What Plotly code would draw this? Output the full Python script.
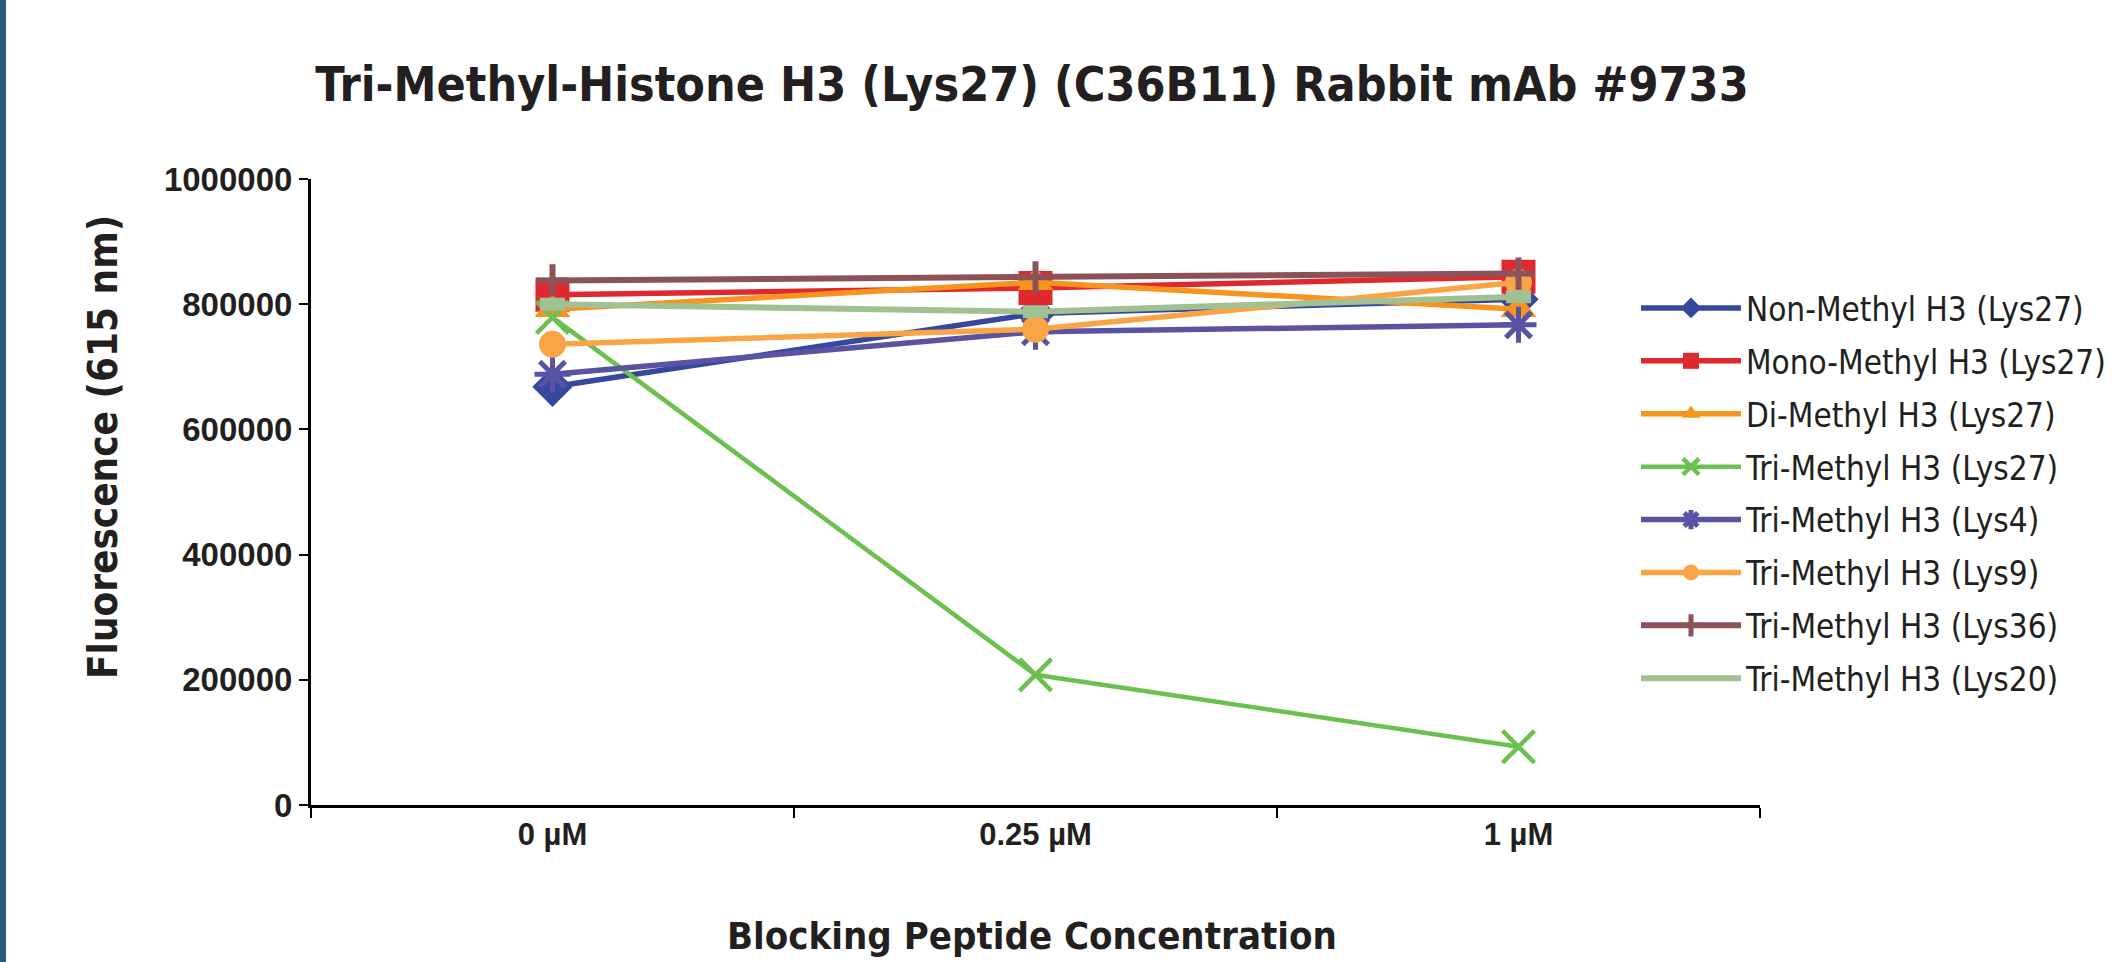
import plotly.graph_objects as go

categories = ["0 µM", "0.25 µM", "1 µM"]

series_names = [
    "Non-Methyl H3 (Lys27)",
    "Mono-Methyl H3 (Lys27)",
    "Di-Methyl H3 (Lys27)",
    "Tri-Methyl H3 (Lys27)",
    "Tri-Methyl H3 (Lys4)",
    "Tri-Methyl H3 (Lys9)",
    "Tri-Methyl H3 (Lys36)",
    "Tri-Methyl H3 (Lys20)",
]

non_methyl_k27 = [668000, 785000, 808000]
mono_methyl_k27 = [815000, 826000, 844000]
di_methyl_k27 = [792000, 835000, 792000]
tri_methyl_k27 = [779000, 208000, 93000]
tri_methyl_k4 = [688000, 756000, 767000]
tri_methyl_k9 = [736000, 760000, 835000]
tri_methyl_k36 = [838000, 843000, 849000]
tri_methyl_k20 = [800000, 788000, 812000]

series_values = [
    non_methyl_k27, mono_methyl_k27, di_methyl_k27, tri_methyl_k27,
    tri_methyl_k4, tri_methyl_k9, tri_methyl_k36, tri_methyl_k20,
]

y_tick_vals = [0, 200000, 400000, 600000, 800000, 1000000]
y_tick_text = ["0", "200000", "400000", "600000", "800000", "1000000"]

colors = ["#36489E", "#E0282F", "#F7941E", "#6CC04F",
          "#5A52A3", "#F9A546", "#8B5257", "#A2C192"]
symbols = ["diamond", "square", "triangle-up", "x-thin",
           "asterisk", "circle", "cross-thin", "line-ew"]
sizes = [31, 34, 31, 32, 30, 27, 23, 18]
mline = [0, 0, 0, 4.5, 5, 0, 6, 13]
lwidth = [5.5, 5.5, 5.5, 4.5, 5.5, 5.5, 6, 6]

NARROW = "Liberation Sans Narrow, DejaVu Sans Condensed, Arial Narrow, Liberation Sans"
BOLD = "Liberation Sans, Arial, Helvetica"
TXT = "#231F20"

fig = go.Figure()
for i, (name, vals, c, s, sz, mw, lw) in enumerate(zip(series_names, series_values, colors,
                                                       symbols, sizes, mline, lwidth)):
    fig.add_trace(go.Scatter(
        x=categories, y=vals, name=name, mode="lines+markers",
        legendgroup=f"g{i}",
        line=dict(color=c, width=lw),
        marker=dict(symbol=s, size=sz, color=c,
                    line=dict(color=c, width=mw)),
    ))

W, H = 2112, 962
L, R, T, B = 311, 352, 179, 157
pw, ph = W - L - R, H - T - B

fig.update_layout(
    width=W, height=H,
    margin=dict(l=L, r=R, t=T, b=B, autoexpand=False),
    paper_bgcolor="white", plot_bgcolor="white",
    title=dict(text="Tri-Methyl-Histone H3 (Lys27) (C36B11) Rabbit mAb #9733",
               x=1032 / W, xanchor="center", y=1 - 84 / H, yanchor="middle",
               font=dict(family=NARROW, size=48, color=TXT, weight="bold")),
    showlegend=True,
    legend=dict(x=(1636 - L) / pw, xanchor="left", y=(H - B - 280) / ph, yanchor="top",
                font=dict(family=NARROW, size=33, color=TXT),
                bgcolor="rgba(0,0,0,0)", itemwidth=100, tracegroupgap=7),
    xaxis=dict(type="category", categoryorder="array", categoryarray=categories,
               range=[-0.5, 2.5], tickson="boundaries", ticks="outside", ticklen=10,
               tickwidth=2, tickcolor="black", showline=True, linecolor="black",
               linewidth=3, showgrid=False, zeroline=False,
               tickfont=dict(family=BOLD, size=31, color=TXT, weight="bold")),
    yaxis=dict(range=[0, 1000000], tickvals=y_tick_vals, ticktext=y_tick_text,
               ticks="outside", ticklen=9, tickwidth=2, tickcolor="black",
               showline=True, linecolor="black", linewidth=3, showgrid=False,
               zeroline=False,
               tickfont=dict(family=BOLD, size=33, color=TXT, weight="bold")),
    annotations=[
        dict(text="Fluorescence (615 nm)", xref="paper", yref="paper",
             x=(103 - L) / pw, y=(H - B - 447) / ph, xanchor="center", yanchor="middle",
             textangle=-90, showarrow=False,
             font=dict(family=NARROW, size=40, color=TXT, weight="bold")),
        dict(text="Blocking Peptide Concentration", xref="paper", yref="paper",
             x=(1032 - L) / pw, y=(H - B - 936) / ph, xanchor="center", yanchor="middle",
             showarrow=False,
             font=dict(family=NARROW, size=38, color=TXT, weight="bold")),
    ],
    shapes=[dict(type="rect", xref="paper", yref="paper",
                 x0=-L / pw, x1=(6 - L) / pw, y0=-B / ph, y1=1 + T / ph,
                 fillcolor="#265B7E", line=dict(width=0), layer="below")],
)

fig.write_html("out.html")
